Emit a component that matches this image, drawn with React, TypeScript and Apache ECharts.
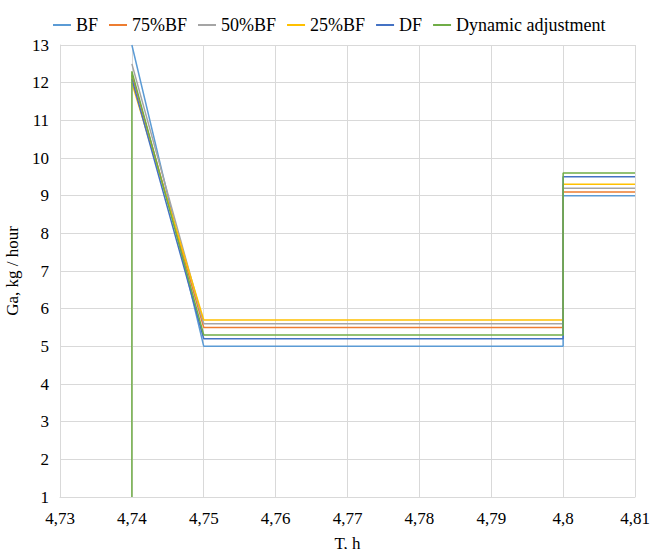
import React, { useEffect, useRef } from "react";
import * as echarts from "echarts";

const seriesNames = ["BF", "75%BF", "50%BF", "25%BF", "DF", "Dynamic adjustment"];
const colors = ["#5B9BD5", "#ED7D31", "#A5A5A5", "#FFC000", "#4472C4", "#70AD47"];
const timePoints = [4.74, 4.75, 4.8, 4.8, 4.81];
const bfValues = [13.0, 5.0, 5.0, 9.0, 9.0];
const bf75Values = [12.2, 5.5, 5.5, 9.1, 9.1];
const bf50Values = [12.5, 5.6, 5.6, 9.2, 9.2];
const bf25Values = [12.0, 5.7, 5.7, 9.3, 9.3];
const dfValues = [12.1, 5.2, 5.2, 9.5, 9.5];
const dynTime = [4.74, 4.74, 4.75, 4.8, 4.8, 4.81];
const dynValues = [1.0, 12.3, 5.3, 5.3, 9.6, 9.6];
const xTicks = [4.73, 4.74, 4.75, 4.76, 4.77, 4.78, 4.79, 4.8, 4.81];
const yTicks = [1, 2, 3, 4, 5, 6, 7, 8, 9, 10, 11, 12, 13];

const FONT = "Liberation Serif";

export default function App() {
  const ref = useRef<HTMLDivElement>(null);
  useEffect(() => {
    if (!ref.current) return;
    const chart = echarts.init(ref.current, undefined, { renderer: "svg" });
    const valueSets = [bfValues, bf75Values, bf50Values, bf25Values, dfValues];
    const series: any[] = valueSets.map((vals, i) => ({
      name: seriesNames[i],
      type: "line",
      data: timePoints.map((t, j) => [t, vals[j]]),
      showSymbol: false,
      lineStyle: { width: 1.5, color: colors[i] },
      itemStyle: { color: colors[i] },
    }));
    series.push({
      name: seriesNames[5],
      type: "line",
      data: dynTime.map((t, j) => [t, dynValues[j]]),
      showSymbol: false,
      lineStyle: { width: 1.5, color: colors[5] },
      itemStyle: { color: colors[5] },
    });
    const fmtX = (v: number) => parseFloat(v.toFixed(2)).toString().replace(".", ",");
    chart.setOption({
      animation: false,
      color: colors,
      textStyle: { fontFamily: FONT },
      legend: {
        top: 11,
        left: 48,
        icon: "rect",
        itemWidth: 18,
        itemHeight: 2,
        itemGap: 11,
        textStyle: { fontFamily: FONT, fontSize: 18, color: "#000" },
        data: seriesNames,
      },
      grid: { left: 60, right: 17, top: 45, bottom: 52, containLabel: false, outerBoundsMode: "none" },
      xAxis: {
        type: "value",
        min: xTicks[0],
        max: xTicks[xTicks.length - 1],
        interval: 0.01,
        name: "T, h",
        nameLocation: "middle",
        nameGap: 38,
        nameTextStyle: { fontFamily: FONT, fontSize: 17, color: "#000" },
        axisLine: { show: true, lineStyle: { color: "#d9d9d9" } },
        axisTick: { show: false },
        axisLabel: {
          margin: 13,
          formatter: fmtX,
          fontFamily: FONT,
          fontSize: 17,
          color: "#000000",
        },
        splitLine: { show: true, lineStyle: { color: "#d9d9d9" } },
      },
      yAxis: {
        type: "value",
        min: yTicks[0],
        max: yTicks[yTicks.length - 1],
        interval: 1,
        name: "Ga, kg / hour",
        nameLocation: "middle",
        nameGap: 36,
        nameTextStyle: { fontFamily: FONT, fontSize: 17, color: "#000" },
        axisLine: { show: true, lineStyle: { color: "#d9d9d9" } },
        axisTick: { show: false },
        axisLabel: {
          margin: 11,
          fontFamily: FONT,
          fontSize: 17,
          color: "#000000",
        },
        splitLine: { show: true, lineStyle: { color: "#d9d9d9" } },
      },
      series,
    });
    return () => chart.dispose();
  }, []);
  return (
    <>
      <style>{`#chart-box svg text { font-family: "Liberation Serif", "Times New Roman", serif !important; }`}</style>
      <div
        id="chart-box"
        ref={ref}
        style={{ position: "absolute", left: 0, top: 0, width: 652, height: 549 }}
      />
    </>
  );
}
